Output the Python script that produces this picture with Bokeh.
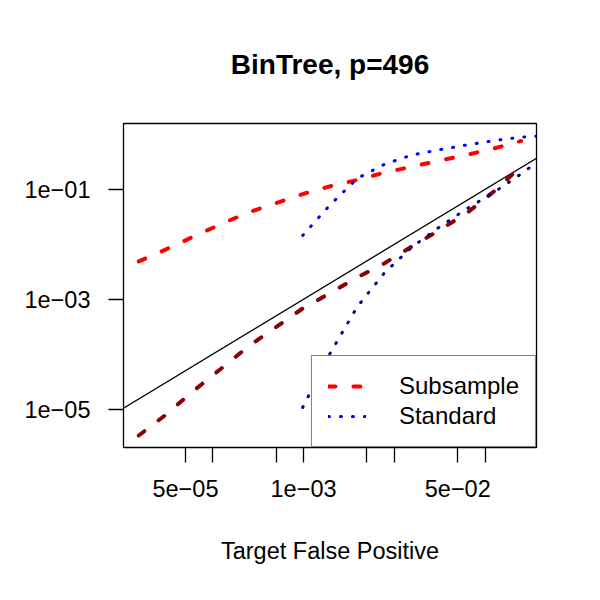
import math

from bokeh.embed import file_html
from bokeh.models import FixedTicker, Legend, LegendItem, Range1d
from bokeh.plotting import figure
from bokeh.resources import INLINE

# Target false positive rates (powers of two)
target_fp = [1.53e-05, 3.05e-05, 6.10e-05, 1.22e-04, 2.44e-04, 4.88e-04, 9.77e-04,
             1.95e-03, 3.91e-03, 7.81e-03, 1.56e-02, 3.13e-02, 6.25e-02, 0.125, 0.25]
target_fp_std = [9.77e-04, 1.95e-03, 3.91e-03, 7.81e-03, 1.56e-02, 3.13e-02,
                 6.25e-02, 0.125, 0.25, 0.5]

# Achieved false positive rates, upper and lower bands
subsample_hi = [0.00489, 0.00809, 0.0138, 0.0232, 0.0379, 0.0555, 0.0824, 0.114,
                0.149, 0.203, 0.259, 0.335, 0.426, 0.557, 0.764]
subsample_lo = [3.3e-06, 7.93e-06, 2.13e-05, 5.38e-05, 1.36e-04, 3.05e-04, 6.78e-04,
                1.29e-03, 2.51e-03, 4.53e-03, 9.14e-03, 1.81e-02, 3.68e-02, 9.18e-02, 0.264]
standard_hi = [0.0145, 0.0519, 0.159, 0.288, 0.423, 0.528, 0.646, 0.774, 0.897, 0.96]
standard_lo = [1.07e-05, 1.02e-04, 7.31e-04, 3.05e-03, 8.87e-03, 2.06e-02, 4.42e-02,
               8.85e-02, 0.192, 0.447]

# Identity reference line (achieved == target)
identity = [1e-07, 10.0]

x_tick_values = [5e-05, 1e-04, 5e-04, 1e-03, 5e-03, 1e-02, 5e-02, 1e-01]
x_tick_labels = ["5e\u221205", "", "", "1e\u221203", "", "", "5e\u221202", ""]
y_tick_values = [1e-05, 1e-03, 1e-01]
y_tick_labels = ["1e\u221205", "1e\u221203", "1e\u221201"]

FONT = "Liberation Sans"


def padded_log_range(values, frac=0.04):
    lo = math.log10(min(values))
    hi = math.log10(max(values))
    pad = (hi - lo) * frac
    return Range1d(10 ** (lo - pad), 10 ** (hi + pad))


p = figure(width=600, height=600, x_axis_type="log", y_axis_type="log",
           x_range=padded_log_range(target_fp),
           y_range=padded_log_range(subsample_lo + subsample_hi + standard_lo + standard_hi),
           output_backend="svg", toolbar_location=None,
           min_border_left=123, min_border_right=64,
           min_border_top=123, min_border_bottom=153)

p.background_fill_color = "white"
p.border_fill_color = "white"
p.outline_line_color = "black"
p.outline_line_width = 1.3
p.xgrid.visible = False
p.ygrid.visible = False

p.title.text = "BinTree, p=496"
p.title.align = "center"
p.title.text_font = FONT
p.title.text_font_size = "28px"
p.title.text_font_style = "bold"
p.title.text_color = "black"
p.title.standoff = 87

for ax in (p.xaxis[0], p.yaxis[0]):
    ax.axis_line_color = None
    ax.major_tick_in = 0
    ax.major_tick_out = 15
    ax.major_tick_line_width = 1.3
    ax.minor_tick_line_color = None
    ax.major_label_text_font = FONT
    ax.major_label_text_font_size = "23.5px"
    ax.major_label_text_color = "black"

p.xaxis[0].ticker = FixedTicker(ticks=x_tick_values, minor_ticks=[])
p.xaxis[0].major_label_overrides = dict(zip(x_tick_values, x_tick_labels))
p.xaxis[0].major_label_standoff = 17
p.xaxis[0].axis_label = "Target False Positive"
p.xaxis[0].axis_label_text_font = FONT
p.xaxis[0].axis_label_text_font_size = "23.5px"
p.xaxis[0].axis_label_text_font_style = "normal"
p.xaxis[0].axis_label_text_color = "black"
p.xaxis[0].axis_label_standoff = 38

p.yaxis[0].ticker = FixedTicker(ticks=y_tick_values, minor_ticks=[])
p.yaxis[0].major_label_overrides = dict(zip(y_tick_values, y_tick_labels))
p.yaxis[0].major_label_standoff = 18

# Identity line
p.line(identity, identity, line_color="black", line_width=1.3)

# Subsample bands (dashed)
sub_hi = p.line(target_fp, subsample_hi, line_color="red", line_width=4,
                line_dash="7 18", line_cap="round")
p.line(target_fp, subsample_lo, line_color="darkred", line_width=4,
       line_dash="7 18", line_cap="round")

# Standard bands (dotted)
std_hi = p.line(target_fp_std, standard_hi, line_color="blue", line_width=3,
                line_dash="1 11", line_cap="round")
p.line(target_fp_std, standard_lo, line_color="darkblue", line_width=3,
       line_dash="1 11", line_cap="round")

legend = Legend(items=[LegendItem(label="Subsample", renderers=[sub_hi]),
                       LegendItem(label="Standard", renderers=[std_hi])],
                location="bottom_right", margin=0, padding=16, spacing=2,
                glyph_width=38, glyph_height=24, label_height=24,
                label_standoff=33, label_text_font=FONT,
                label_text_font_size="24px", label_text_color="black",
                border_line_color="black",
                border_line_width=1.3, background_fill_alpha=1.0)
p.add_layout(legend)

open("out.html", "w").write(file_html(p, INLINE))
